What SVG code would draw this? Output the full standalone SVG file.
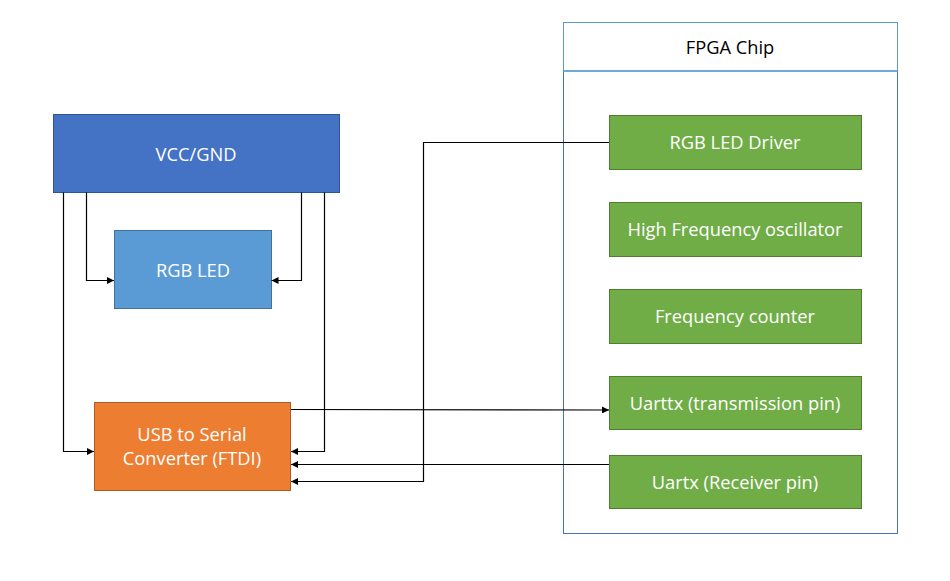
<svg xmlns="http://www.w3.org/2000/svg" width="950" height="581" viewBox="0 0 950 581">
<defs>
<marker id="arr" viewBox="0 0 10 10" refX="10" refY="5" markerWidth="7" markerHeight="7" markerUnits="userSpaceOnUse" orient="auto">
<path d="M0,0 L10,5 L0,10 z" fill="#000"/>
</marker>
</defs>
<style>
text{font-family:"Segoe UI","Open Sans","Noto Sans",sans-serif;font-size:18.3px;text-anchor:middle;dominant-baseline:central}
.w{fill:#fff}
.g rect{fill:#70AD47;stroke:#507E32;stroke-width:1}
.c path{fill:none;stroke:#000;stroke-width:1.2;marker-end:url(#arr)}
</style>
<rect width="950" height="581" fill="#fff"/>
<g id="fpga">
<rect x="563.5" y="22.5" width="334" height="511" fill="#fff" stroke="#4472C4" stroke-width="1"/>
<line x1="563.5" y1="71" x2="897.5" y2="71" stroke="#5B9BD5" stroke-width="1.5"/>
<rect x="563.5" y="22.5" width="334" height="48.5" fill="none" stroke="#5B9BD5" stroke-width="1"/>
<text x="730" y="46" fill="#000">FPGA Chip</text>
</g>
<g id="vcc">
<rect x="53.5" y="114.5" width="286" height="78" fill="#4472C4" stroke="#2F5597"/>
<text class="w" x="196" y="153">VCC/GND</text>
</g>
<g id="rgbled">
<rect x="114.5" y="230.5" width="157" height="78" fill="#5B9BD5" stroke="#41719C"/>
<text class="w" x="193" y="269">RGB LED</text>
</g>
<g id="usb">
<rect x="94.5" y="402.5" width="196" height="88" fill="#ED7D31" stroke="#AE5A21"/>
<text class="w" x="192" y="433">USB to Serial</text>
<text class="w" x="192" y="457">Converter (FTDI)</text>
</g>
<g id="driver" class="g">
<rect x="609.5" y="115.5" width="252" height="54"/>
<text class="w" x="735" y="141">RGB LED Driver</text>
</g>
<g id="osc" class="g">
<rect x="609.5" y="202.5" width="252" height="54"/>
<text class="w" x="735" y="228">High Frequency oscillator</text>
</g>
<g id="counter" class="g">
<rect x="609.5" y="289.5" width="252" height="54"/>
<text class="w" x="735" y="315">Frequency counter</text>
</g>
<g id="uarttx" class="g">
<rect x="609.5" y="376.5" width="252" height="53"/>
<text class="w" x="735" y="402">Uarttx (transmission pin)</text>
</g>
<g id="uartx" class="g">
<rect x="609.5" y="455.5" width="252" height="53"/>
<text class="w" x="735" y="481">Uartx (Receiver pin)</text>
</g>
<g id="connectors" class="c">
<path d="M63.5,192.5 V451.5 H94"/>
<path d="M86.5,192.5 V280.5 H114"/>
<path d="M301.5,192.5 V280.5 H271.5"/>
<path d="M324.5,192.5 V451.5 H291"/>
<path d="M291,409.5 L609,410"/>
<path d="M609,464.5 H291"/>
<path d="M609,142.5 H423.5 V481.5 H291"/>
</g>
</svg>
